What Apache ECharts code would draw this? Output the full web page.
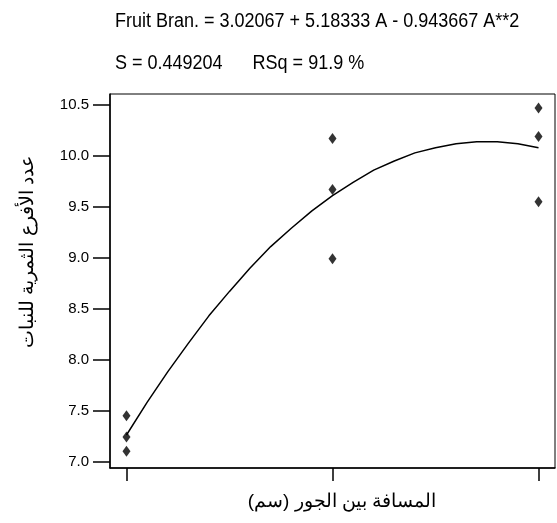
<!DOCTYPE html>
<html>
<head>
<meta charset="utf-8">
<script src="https://cdn.jsdelivr.net/npm/echarts@6/dist/echarts.min.js"></script>
<style>
  html, body { margin: 0; padding: 0; background: #fff; }
  #chart { width: 557px; height: 523px; }
</style>
</head>
<body>
<div id="chart"></div>
<script>
// Observed fruiting branches per plant at three hill spacings (coded 1, 2, 3)
const spacingLevels = [1, 1, 1, 2, 2, 2, 3, 3, 3];
const branchCounts = [7.45, 7.24, 7.10, 10.17, 9.67, 8.99, 10.47, 10.19, 9.55];

// Fitted quadratic curve, sampled along the spacing axis
const curveX = [1.0, 1.1, 1.2, 1.3, 1.4, 1.5, 1.6, 1.7, 1.8, 1.9, 2.0,
                2.1, 2.2, 2.3, 2.4, 2.5, 2.6, 2.7, 2.8, 2.9, 3.0];
const curveY = [7.26, 7.58, 7.88, 8.16, 8.43, 8.67, 8.90, 9.11, 9.29, 9.46, 9.61,
                9.74, 9.86, 9.95, 10.03, 10.08, 10.12, 10.14, 10.14, 10.12, 10.08];

const yTicks = [7.0, 7.5, 8.0, 8.5, 9.0, 9.5, 10.0, 10.5];
const xTicks = [1, 2, 3];

const equationText = 'Fruit Bran. = 3.02067 + 5.18333 A - 0.943667 A**2';
const statsText = 'S = 0.449204      RSq = 91.9 %';
const xTitle = 'المسافة بين الجور (سم)';
const yTitle = 'عدد الأفرع الثمرية للنبات';

const chart = echarts.init(document.getElementById('chart'), null, { renderer: 'canvas' });

const points = spacingLevels.map((x, i) => [x, branchCounts[i]]);
const curve = curveX.map((x, i) => [x, curveY[i]]);

const baseFont = 'Liberation Sans, Arial, sans-serif';

chart.setOption({
  backgroundColor: '#ffffff',
  animation: false,
  graphic: [
    // regression equation and fit statistics, in a condensed face
    {
      type: 'text', x: 115, y: 21, scaleX: 0.9,
      style: { text: equationText, x: 0, y: 0, align: 'left', verticalAlign: 'middle',
               font: '20px ' + baseFont, fill: '#000' }
    },
    {
      type: 'text', x: 115, y: 63, scaleX: 0.9,
      style: { text: statsText, x: 0, y: 0, align: 'left', verticalAlign: 'middle',
               font: '20px ' + baseFont, fill: '#000' }
    },
    // axis titles
    {
      type: 'text', x: 342, y: 502,
      style: { text: xTitle, x: 0, y: 0, align: 'center', verticalAlign: 'middle',
               font: '19px ' + baseFont, fill: '#000' }
    },
    {
      type: 'text', x: 28, y: 252, rotation: Math.PI / 2,
      style: { text: yTitle, x: 0, y: 0, align: 'center', verticalAlign: 'middle',
               font: '19px ' + baseFont, fill: '#000' }
    }
  ],
  grid: {
    left: 110, top: 94, right: 2, bottom: 55,
    show: true, borderColor: '#000', borderWidth: 1, backgroundColor: 'transparent'
  },
  xAxis: {
    type: 'value', min: 0.92, max: 3.08,
    axisLine: { show: true, onZero: false, lineStyle: { color: '#000', width: 1.5 } },
    axisTick: { show: true, length: 13, customValues: xTicks, lineStyle: { color: '#000', width: 1.5 } },
    axisLabel: { show: false },
    splitLine: { show: false }
  },
  yAxis: {
    type: 'value', min: 6.936, max: 10.608,
    axisLine: { show: true, onZero: false, lineStyle: { color: '#000', width: 1.5 } },
    axisTick: { show: true, length: 17, customValues: yTicks, lineStyle: { color: '#000', width: 1.5 } },
    axisLabel: {
      show: true, customValues: yTicks, margin: 21,
      fontFamily: baseFont, fontSize: 15, color: '#000',
      formatter: v => v.toFixed(1)
    },
    splitLine: { show: false }
  },
  series: [
    {
      type: 'line', data: curve, showSymbol: false, smooth: false,
      lineStyle: { color: '#000', width: 1.5 }, silent: true, z: 2
    },
    {
      type: 'scatter', data: points, symbol: 'diamond', symbolSize: [8, 11],
      itemStyle: { color: '#000' }, z: 3
    }
  ]
});
</script>
</body>
</html>
